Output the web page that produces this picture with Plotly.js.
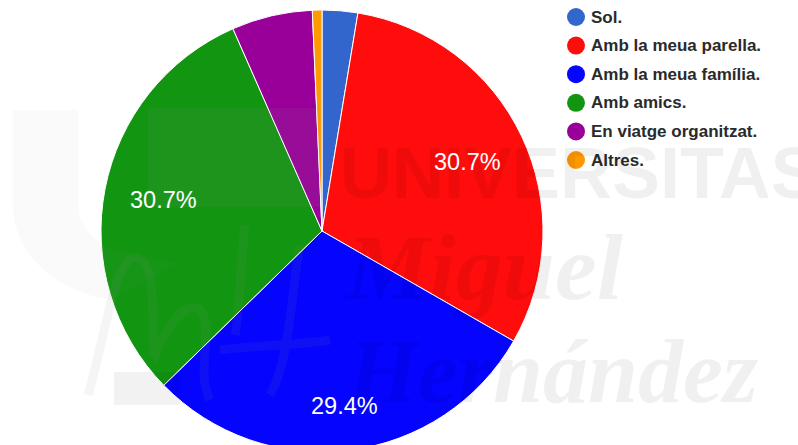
<!DOCTYPE html>
<html><head><meta charset="utf-8">
<script src="https://cdn.plot.ly/plotly-3.0.1.min.js"></script>
<style>html,body{margin:0;padding:0;background:#fff;overflow:hidden;width:798px;height:445px}#c{width:798px;height:484px}</style>
</head><body><div id="c"></div>
<script>
const categories = ["Sol.","Amb la meua parella.","Amb la meua família.","Amb amics.","En viatge organitzat.","Altres."];
const values = [2.6,30.7,29.4,30.7,5.9,0.7];
const sliceLabels = ["","30.7%","29.4%","30.7%","",""];
const labelRadius = [0,0.73,0.8,0.73,0,0];
const colors = ["#3366cc","#ff0c0c","#0404ff","#129612","#990099","#ff9900"];
const legendRows = [0,1,2,3,4,5];
const legendTextRows = [0.05,1.05,2.05,3.05,4.05,5.05];
const legendCol = [576,576,576,576,576,576];
const legendTextCol = [591,591,591,591,591,591];

const W=798,H=484;
const X=p=>p/W, Y=p=>1-p/H;
const wm=(text,x,y,size,family,color)=>({text,x:X(x),y:Y(y),xref:'paper',yref:'paper',xanchor:'left',yanchor:'bottom',showarrow:false,
  font:{family,size,color}});
const ink='rgba(0,0,0,0.06)';
const serif='Liberation Serif';
const annotations=[
 wm('<b>UNIVERSITAS</b>',338,215,72,'Liberation Sans',ink),
 wm('<b><i>Miguel</i></b>',342,321,94,serif,ink),
 wm('<b><i>Hernández</i></b>',345,423,90,serif,ink)
];
// slice percentage labels, placed from the slice values
const cx=322, cy=231, R=221;
const total=values.reduce((a,b)=>a+b,0);
let cum=0;
values.forEach((v,i)=>{
  const mid=(cum+v/2)/total*2*Math.PI; cum+=v;
  if(!sliceLabels[i]) return;
  const r=R*labelRadius[i];
  annotations.push({text:sliceLabels[i],x:X(cx+r*Math.sin(mid)),y:Y(cy-r*Math.cos(mid)),xref:'paper',yref:'paper',xanchor:'center',yanchor:'middle',showarrow:false,
    font:{family:'Liberation Sans',size:23.5,color:'#fff'}});
});
const logo='rgba(140,140,140,0.09)';
const faint='rgba(140,140,140,0.04)';
const P=(path,extra)=>Object.assign({type:'path',xref:'paper',yref:'paper',layer:'above',path},extra);
const shapes=[
 P(`M${X(13)},${Y(110)} L${X(78)},${Y(110)} L${X(78)},${Y(205)} C${X(78)},${Y(240)} ${X(120)},${Y(260)} ${X(180)},${Y(262)} L${X(112)},${Y(300)} C${X(50)},${Y(290)} ${X(13)},${Y(250)} ${X(13)},${Y(205)} Z`,{fillcolor:faint,line:{width:0}}),
 {type:'rect',xref:'paper',yref:'paper',layer:'above',fillcolor:logo,line:{width:0},x0:X(148),x1:X(320),y0:Y(108),y1:Y(207)},
 {type:'rect',xref:'paper',yref:'paper',layer:'above',fillcolor:'rgba(0,0,0,0.05)',line:{width:0},x0:X(114),x1:X(180),y0:Y(372),y1:Y(405)},
 P(`M${X(88)},${Y(395)} C${X(105)},${Y(340)} ${X(115)},${Y(250)} ${X(138)},${Y(258)} C${X(160)},${Y(265)} ${X(150)},${Y(350)} ${X(155)},${Y(355)} C${X(165)},${Y(330)} ${X(185)},${Y(300)} ${X(200)},${Y(310)} C${X(215)},${Y(330)} ${X(195)},${Y(370)} ${X(210)},${Y(400)}`,{line:{color:logo,width:9}}),
 P(`M${X(245)},${Y(225)} C${X(240)},${Y(270)} ${X(240)},${Y(310)} ${X(235)},${Y(335)} M${X(300)},${Y(245)} C${X(290)},${Y(300)} ${X(290)},${Y(360)} ${X(270)},${Y(395)} M${X(220)},${Y(350)} C${X(260)},${Y(345)} ${X(300)},${Y(345)} ${X(330)},${Y(340)}`,{line:{color:logo,width:9}})
];

const pie={type:'pie',values,labels:categories,textinfo:'none',sort:false,direction:'clockwise',rotation:0,
  marker:{colors,line:{color:'#fff',width:1}},showlegend:false,hoverinfo:'label+percent',
  domain:{x:[X(101),X(543)],y:[Y(452),Y(10)]}};
const legendMarks={type:'scatter',mode:'markers',x:legendCol,y:legendRows,
  marker:{size:18,color:colors},showlegend:false,hoverinfo:'skip',cliponaxis:false};
const legendText={type:'scatter',mode:'text',x:legendTextCol,y:legendTextRows,text:categories.map(c=>'<b>'+c+'</b>'),textposition:'middle right',
  textfont:{family:'Liberation Sans',size:17,color:'#2a2a2a'},showlegend:false,hoverinfo:'skip',cliponaxis:false};
const layout={width:W,height:H,margin:{l:0,r:0,t:0,b:0,pad:0},paper_bgcolor:'#fff',plot_bgcolor:'rgba(0,0,0,0)',showlegend:false,
  xaxis:{visible:false,range:[0,W],fixedrange:true},
  yaxis:{visible:false,range:[(H-17)/28.6,-17/28.6],fixedrange:true},
  annotations,shapes};
Plotly.newPlot('c',[pie,legendMarks,legendText],layout,{displayModeBar:false,staticPlot:true});
</script></body></html>
